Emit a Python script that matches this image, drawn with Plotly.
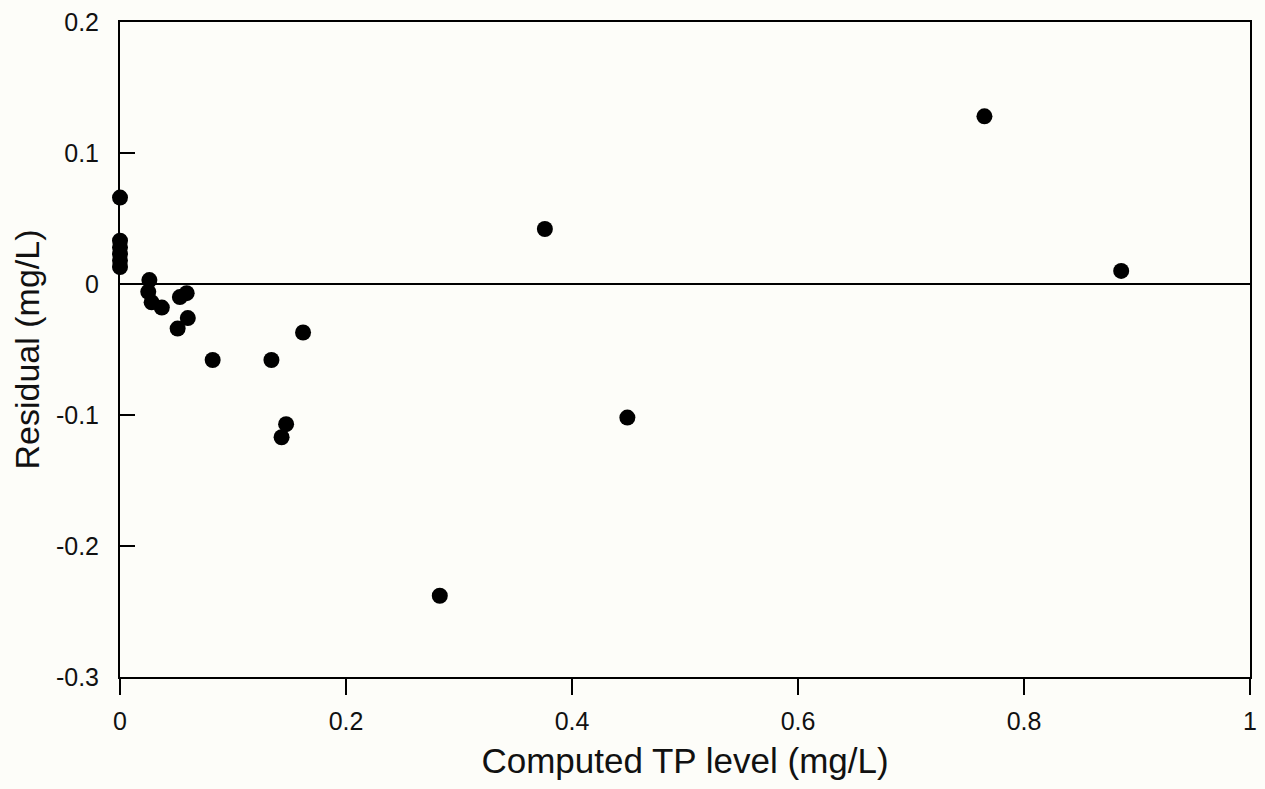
import plotly.graph_objects as go

computed_tp = [0.0, 0.0, 0.0, 0.0, 0.0, 0.0, 0.026, 0.025, 0.028, 0.037,
               0.053, 0.059, 0.051, 0.060, 0.082, 0.134, 0.162, 0.147, 0.143,
               0.283, 0.376, 0.449, 0.765, 0.886]
residual = [0.066, 0.033, 0.028, 0.023, 0.018, 0.013, 0.003, -0.006, -0.014, -0.018,
            -0.010, -0.007, -0.034, -0.026, -0.058, -0.058, -0.037, -0.107, -0.117,
            -0.238, 0.042, -0.102, 0.128, 0.010]

x_ticks = [0, 0.2, 0.4, 0.6, 0.8, 1]
x_tick_text = ["0", "0.2", "0.4", "0.6", "0.8", "1"]
y_ticks = [-0.3, -0.2, -0.1, 0, 0.1, 0.2]
y_tick_text = ["-0.3", "-0.2", "-0.1", "0", "0.1", "0.2"]

bg = "#fdfdf9"
fig = go.Figure()
fig.add_trace(go.Scatter(
    x=computed_tp, y=residual, mode="markers",
    marker=dict(color="black", size=16, line=dict(width=0)),
    cliponaxis=False, showlegend=False,
))
fig.add_hline(y=0, line=dict(color="black", width=2))

fam = "Liberation Sans, Arial, sans-serif"
fig.update_layout(
    width=1265, height=789,
    margin=dict(l=120, r=8, t=20, b=112),
    paper_bgcolor=bg, plot_bgcolor=bg,
    font=dict(family=fam, size=25, color="#111"),
    xaxis=dict(
        range=[0, 1], tickvals=x_ticks, ticktext=x_tick_text,
        tickfont=dict(family=fam, size=25, color="#111"), ticklabelstandoff=5,
        showgrid=False, zeroline=False, showline=True, linecolor="black", linewidth=2,
        mirror=True, ticks="outside", ticklen=16, tickwidth=2, tickcolor="black",
        title=dict(text="Computed TP level (mg/L)", font=dict(family=fam, size=35), standoff=14),
    ),
    yaxis=dict(
        range=[-0.3, 0.2], tickvals=y_ticks, ticktext=y_tick_text,
        tickfont=dict(family=fam, size=25, color="#111"), ticklabelstandoff=14,
        showgrid=False, zeroline=False, showline=True, linecolor="black", linewidth=2,
        mirror=True, ticks="inside", ticklen=15, tickwidth=2, tickcolor="black",
        title=dict(text="Residual (mg/L)", font=dict(family=fam, size=34), standoff=6),
    ),
)
fig.write_html("out.html")
